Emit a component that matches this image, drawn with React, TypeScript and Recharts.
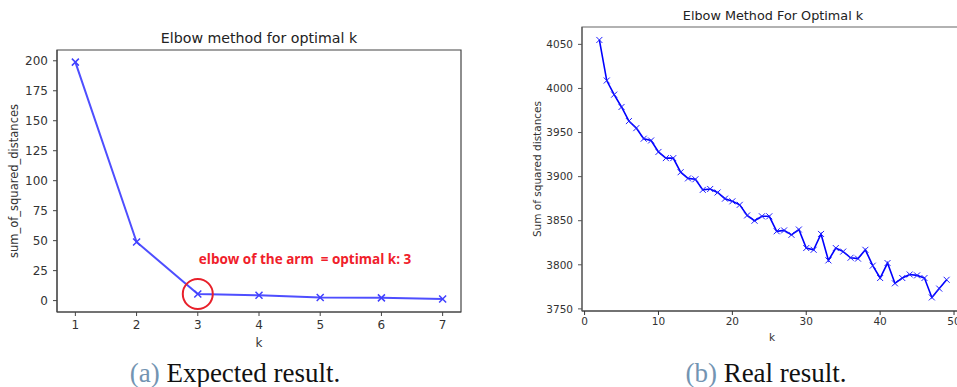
import React from "react";
import {
  LineChart,
  Line,
  XAxis,
  YAxis,
  ReferenceDot,
  ReferenceArea,
  Label,
} from "recharts";

// ---------- data ----------
const kExpected = [1, 2, 3, 4, 5, 6, 7];
const sseExpected = [198.9, 48.9, 5.5, 4.4, 2.6, 2.3, 1.4];
const expectedTicksX = [1, 2, 3, 4, 5, 6, 7];
const expectedTicksY = [0, 25, 50, 75, 100, 125, 150, 175, 200];
const expectedDomainX: [number, number] = [0.7, 7.3];
const expectedDomainY: [number, number] = [-9.5, 209];
const elbowK = 3;
const elbowSse = 5.5;
const annotationY = 34.5;
const annotationText = "elbow of the arm \u00a0= optimal k: 3";

const kReal = [
  2, 3, 4, 5, 6, 7, 8, 9, 10, 11, 12, 13, 14, 15, 16, 17, 18, 19, 20, 21, 22, 23,
  24, 25, 26, 27, 28, 29, 30, 31, 32, 33, 34, 35, 36, 37, 38, 39, 40, 41, 42, 43,
  44, 45, 46, 47, 48, 49,
];
const sseReal = [
  4055, 4009, 3993, 3979, 3963, 3955, 3943, 3941, 3928, 3921, 3921, 3905, 3898,
  3897, 3885, 3886, 3882, 3875, 3872, 3868, 3856, 3850, 3855, 3855, 3838, 3839,
  3834, 3840, 3819, 3817, 3835, 3805, 3819, 3815, 3808, 3807, 3817, 3799, 3785,
  3802, 3779, 3785, 3789, 3788, 3785, 3763, 3773, 3783,
];
const realTicksX = [0, 10, 20, 30, 40, 50];
const realTicksY = [3750, 3800, 3850, 3900, 3950, 4000, 4050];
const realDomainX: [number, number] = [-0.35, 51.35];
const realDomainY: [number, number] = [3747.6, 4069.7];

const expectedData = kExpected.map((k, i) => ({ k, sse: sseExpected[i] }));
const realData = kReal.map((k, i) => ({ k, sse: sseReal[i] }));

const FONT = "DejaVu Sans";

const makeX = (color: string, half: number, width: number) => (props: any) => {
  const { cx, cy, index } = props;
  if (cx == null || cy == null) return <g key={index} />;
  return (
    <path
      key={index}
      d={`M${cx - half},${cy - half}L${cx + half},${cy + half}M${cx + half},${cy - half}L${cx - half},${cy + half}`}
      stroke={color}
      strokeWidth={width}
      fill="none"
    />
  );
};

export default function App() {
  return (
    <div
      style={{
        position: "absolute",
        left: 0,
        top: 0,
        width: 957,
        height: 387,
        overflow: "hidden",
        background: "#fff",
      }}
    >
      {/* Left chart */}
      <div style={{ position: "absolute", left: 0, top: 0 }}>
        <LineChart
          width={480}
          height={387}
          data={expectedData}
          margin={{ top: 50, right: 19, bottom: 45, left: 0 }}
        >
          <XAxis
            dataKey="k"
            type="number"
            domain={expectedDomainX}
            ticks={expectedTicksX}
            allowDataOverflow
            height={30}
            tickSize={4}
            tickMargin={4}
            stroke="#444"
            tick={{ fill: "#333", fontSize: 12, fontFamily: FONT }}
          />
          <YAxis
            type="number"
            domain={expectedDomainY}
            ticks={expectedTicksY}
            allowDataOverflow
            width={57}
            tickSize={4}
            tickMargin={5}
            stroke="#444"
            tick={{ fill: "#333", fontSize: 12, fontFamily: FONT }}
          />
          <ReferenceArea
            x1={expectedDomainX[0]}
            x2={expectedDomainX[1]}
            y1={expectedDomainY[0]}
            y2={expectedDomainY[1]}
            fill="none"
            stroke="#444"
            strokeWidth={1.2}
            ifOverflow="visible"
          />
          <Line
            dataKey="sse"
            stroke="#2f2fff"
            strokeWidth={2}
            strokeOpacity={0.85}
            dot={makeX("#4040ff", 3.5, 1.5)}
            activeDot={false}
            isAnimationActive={false}
          />
          <ReferenceDot
            x={elbowK}
            y={elbowSse}
            r={15}
            fill="none"
            stroke="#e8202a"
            strokeWidth={2}
            ifOverflow="visible"
          />
          <ReferenceDot
            x={elbowK}
            y={annotationY}
            r={1}
            fill="none"
            stroke="none"
            ifOverflow="visible"
          >
            <Label
              value={annotationText}
              position="right"
              offset={0}
              fill="#f0202a"
              fontSize={13.5}
              fontWeight="bold"
              fontFamily="Open Sans"
            />
          </ReferenceDot>
        </LineChart>
      </div>

      {/* Right chart */}
      <div style={{ position: "absolute", left: 480, top: 0 }}>
        <LineChart
          width={490}
          height={387}
          data={realData}
          margin={{ top: 27, right: 6, bottom: 46, left: 0 }}
        >
          <XAxis
            dataKey="k"
            type="number"
            domain={realDomainX}
            ticks={realTicksX}
            allowDataOverflow
            height={30}
            tickSize={4}
            tickMargin={3}
            stroke="#333"
            tick={{ fill: "#333", fontSize: 10.5, fontFamily: FONT }}
          />
          <YAxis
            type="number"
            domain={realDomainY}
            ticks={realTicksY}
            allowDataOverflow
            width={102}
            tickSize={4}
            tickMargin={5}
            stroke="#555"
            tick={{ fill: "#333", fontSize: 10.5, fontFamily: FONT }}
          />
          <ReferenceArea
            x1={realDomainX[0]}
            x2={realDomainX[1]}
            y1={realDomainY[0]}
            y2={realDomainY[1]}
            fill="none"
            stroke="#666"
            strokeWidth={1.2}
            ifOverflow="visible"
          />
          <Line
            dataKey="sse"
            stroke="#0000ff"
            strokeWidth={1.6}
            dot={makeX("#2020ff", 3, 1)}
            activeDot={false}
            isAnimationActive={false}
          />
        </LineChart>
      </div>

      {/* Titles, axis labels, captions */}
      <svg
        width={957}
        height={387}
        style={{ position: "absolute", left: 0, top: 0, pointerEvents: "none" }}
      >
        <text x={259} y={43} textAnchor="middle" fontFamily={FONT} fontSize={14.2} fill="#222">
          Elbow method for optimal k
        </text>
        <text x={259} y={347} textAnchor="middle" fontFamily={FONT} fontSize={12} fill="#333">
          k
        </text>
        <text
          x={18}
          y={181}
          textAnchor="middle"
          fontFamily={FONT}
          fontSize={11.5}
          fill="#333"
          transform="rotate(-90 18 181)"
        >
          sum_of_squared_distances
        </text>

        <text x={773} y={20} textAnchor="middle" fontFamily={FONT} fontSize={12.8} fill="#222">
          Elbow Method For Optimal k
        </text>
        <text x={772} y={341} textAnchor="middle" fontFamily={FONT} fontSize={10.5} fill="#333">
          k
        </text>
        <text
          x={541}
          y={169}
          textAnchor="middle"
          fontFamily={FONT}
          fontSize={10.5}
          fill="#333"
          transform="rotate(-90 541 169)"
        >
          Sum of squared distances
        </text>

        <text x={235} y={382} textAnchor="middle" fontFamily="Liberation Serif" fontSize={27} fill="#111">
          <tspan fill="#7394b2">(a)</tspan> Expected result.
        </text>
        <text x={766} y={382} textAnchor="middle" fontFamily="Liberation Serif" fontSize={27} fill="#111">
          <tspan fill="#7394b2">(b)</tspan> Real result.
        </text>
      </svg>
    </div>
  );
}
